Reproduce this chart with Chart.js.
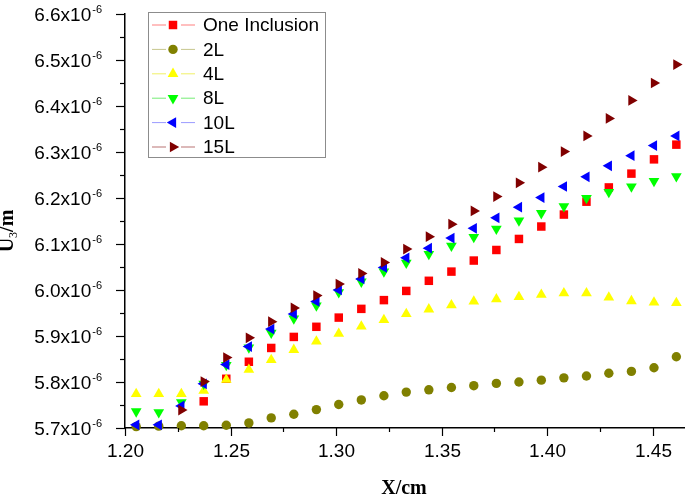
<!DOCTYPE html>
<html>
<head>
<meta charset="utf-8">
<script src="https://cdn.jsdelivr.net/npm/chart.js@4.4.0/dist/chart.umd.min.js"></script>
<style>
  body { margin: 0; background: #fff; }
</style>
</head>
<body>
<canvas id="u3Chart" width="685" height="498"></canvas>
<script>
// U3 values are in units of 1e-6 m, X in cm
var xValues = [1.2053, 1.2160, 1.2267, 1.2373, 1.2480, 1.2587, 1.2693, 1.2800, 1.2907, 1.3013,
               1.3120, 1.3227, 1.3333, 1.3440, 1.3547, 1.3653, 1.3760, 1.3867, 1.3973, 1.4080,
               1.4187, 1.4293, 1.4400, 1.4507, 1.4613];

var oneInclusion = [null, null, null, 5.758, 5.807, 5.844, 5.874, 5.898, 5.920, 5.940,
                    5.959, 5.978, 5.998, 6.020, 6.040, 6.064, 6.087, 6.111, 6.138, 6.164,
                    6.192, 6.223, 6.253, 6.284, 6.316];
var twoL = [5.703, 5.704, 5.705, 5.705, 5.706, 5.711, 5.722, 5.730, 5.740, 5.751,
            5.761, 5.770, 5.778, 5.783, 5.788, 5.792, 5.797, 5.800, 5.804, 5.809,
            5.813, 5.819, 5.823, 5.831, 5.855];
var fourL = [5.774, 5.774, 5.774, 5.781, 5.805, 5.827, 5.848, 5.870, 5.888, 5.905,
             5.921, 5.935, 5.948, 5.958, 5.967, 5.975, 5.980, 5.985, 5.990, 5.993,
             5.993, 5.984, 5.976, 5.973, 5.972];
var eightL = [5.736, 5.734, 5.756, 5.796, 5.837, 5.875, 5.907, 5.938, 5.966, 5.995,
              6.018, 6.040, 6.059, 6.078, 6.096, 6.115, 6.133, 6.151, 6.167, 6.182,
              6.200, 6.213, 6.225, 6.237, 6.247];
var tenL = [5.707, 5.707, 5.748, 5.796, 5.838, 5.877, 5.915, 5.948, 5.975, 6.000,
            6.024, 6.049, 6.070, 6.091, 6.113, 6.134, 6.157, 6.180, 6.201, 6.225,
            6.246, 6.270, 6.292, 6.314, 6.335];
var fifteenL = [null, null, 5.739, 5.801, 5.853, 5.896, 5.931, 5.961, 5.988, 6.013,
                6.036, 6.060, 6.089, 6.116, 6.143, 6.172, 6.203, 6.233, 6.267, 6.301,
                6.335, 6.373, 6.412, 6.450, 6.490];

var yTicks = [5.7, 5.8, 5.9, 6.0, 6.1, 6.2, 6.3, 6.4, 6.5, 6.6];
var xTicks = [1.20, 1.25, 1.30, 1.35, 1.40, 1.45];

var sansFont = '"Liberation Sans", Arial, sans-serif';
var serifFont = '"Liberation Serif", "Times New Roman", serif';

function toPoints(ys) {
    var pts = [];
    xValues.forEach(function (x, i) {
        if (ys[i] !== null) pts.push({ x: x, y: ys[i] });
    });
    return pts;
}

function makeSet(label, ys, color, lineColor, style, rot, r, order) {
    return {
        label: label,
        data: toPoints(ys),
        pointStyle: style,
        pointRotation: rot,
        pointRadius: r,
        pointBackgroundColor: color,
        pointBorderWidth: 0,
        lineColor: lineColor,
        showLine: false,
        clip: false,
        order: order
    };
}

// minor + major ticks, labels with superscript exponent, axis titles, boxed legend
var decorPlugin = {
    id: 'decor',
    afterDraw: function (chart) {
        var ctx = chart.ctx;
        var ys = chart.scales.y, xs = chart.scales.x;
        ctx.save();
        ctx.strokeStyle = '#000';
        ctx.lineWidth = 1.2;
        ctx.fillStyle = '#000';

        yTicks.forEach(function (v, i) {
            var py = Math.round(ys.getPixelForValue(v)) + 0.5;
            ctx.beginPath(); ctx.moveTo(ys.right - 9, py); ctx.lineTo(ys.right, py); ctx.stroke();
            if (i < yTicks.length - 1) {
                var pm = Math.round(ys.getPixelForValue((v + yTicks[i + 1]) / 2)) + 0.5;
                ctx.beginPath(); ctx.moveTo(ys.right - 5, pm); ctx.lineTo(ys.right, pm); ctx.stroke();
            }
            var main = v.toFixed(1) + 'x10', sup = '-6';
            ctx.font = '11px ' + sansFont;
            var supW = ctx.measureText(sup).width;
            ctx.font = '19px ' + sansFont;
            var mainW = ctx.measureText(main).width;
            var endX = ys.right - 23;
            ctx.textAlign = 'left';
            ctx.textBaseline = 'middle';
            ctx.fillText(main, endX - supW - 1 - mainW, py + 1);
            ctx.font = '11px ' + sansFont;
            ctx.textBaseline = 'alphabetic';
            ctx.fillText(sup, endX - supW, py - 1.5);
        });

        xTicks.forEach(function (v, i) {
            var px = Math.round(xs.getPixelForValue(v)) + 0.5;
            ctx.beginPath(); ctx.moveTo(px, xs.top); ctx.lineTo(px, xs.top + 8); ctx.stroke();
            var pm = Math.round(xs.getPixelForValue(v + 0.025)) + 0.5;
            if (pm < chart.width) {
                ctx.beginPath(); ctx.moveTo(pm, xs.top); ctx.lineTo(pm, xs.top + 4); ctx.stroke();
            }
            ctx.font = '19px ' + sansFont;
            ctx.textAlign = 'center';
            ctx.textBaseline = 'middle';
            ctx.fillText(v.toFixed(2), px, xs.top + 24);
        });

        // axis titles
        ctx.font = 'bold 20px ' + serifFont;
        ctx.textAlign = 'center';
        ctx.textBaseline = 'middle';
        ctx.fillText('X/cm', (chart.chartArea.left + chart.chartArea.right) / 2 - 1, 489);

        ctx.save();
        ctx.translate(8, 231);
        ctx.rotate(-Math.PI / 2);
        ctx.textAlign = 'left';
        ctx.textBaseline = 'middle';
        ctx.font = 'bold 20px ' + serifFont;
        var wU = ctx.measureText('U').width;
        var wM = ctx.measureText('/m').width;
        ctx.font = '12px ' + serifFont;
        var w3 = ctx.measureText('3').width;
        var start = -(wU + w3 + wM) / 2;
        ctx.font = 'bold 20px ' + serifFont;
        ctx.fillText('U', start, 0);
        ctx.font = '12px ' + serifFont;
        ctx.fillText('3', start + wU, 6);
        ctx.font = 'bold 20px ' + serifFont;
        ctx.fillText('/m', start + wU + w3, 0);
        ctx.restore();

        // legend
        ctx.strokeStyle = '#8c8c8c';
        ctx.lineWidth = 1;
        ctx.strokeRect(148.5, 12.5, 177, 145);
        chart.data.datasets.forEach(function (ds, i) {
            var ly = 25 + i * 24.4;
            ctx.strokeStyle = ds.lineColor;
            ctx.lineWidth = 1;
            ctx.beginPath();
            ctx.moveTo(152, ly); ctx.lineTo(166, ly);
            ctx.moveTo(181, ly); ctx.lineTo(195, ly);
            ctx.stroke();
            ctx.fillStyle = ds.pointBackgroundColor;
            Chart.helpers.drawPoint(ctx, {
                pointStyle: ds.pointStyle,
                rotation: ds.pointRotation,
                radius: ds.pointRadius,
                borderWidth: 0
            }, 173, ly);
            ctx.fillStyle = '#000';
            ctx.font = '19px ' + sansFont;
            ctx.textAlign = 'left';
            ctx.textBaseline = 'middle';
            ctx.fillText(ds.label, 203, ly + 1);
        });
        ctx.restore();
    }
};

new Chart(document.getElementById('u3Chart'), {
    type: 'scatter',
    data: {
        datasets: [
            makeSet('One Inclusion', oneInclusion, '#ff0000', 'rgba(255,0,0,0.5)', 'rect', 0, 6, 5),
            makeSet('2L', twoL, '#808000', 'rgba(128,128,0,0.45)', 'circle', 0, 4.7, 4),
            makeSet('4L', fourL, '#ffff00', 'rgba(230,230,0,0.6)', 'triangle', 0, 6.2, 3),
            makeSet('8L', eightL, '#00ff00', 'rgba(0,220,0,0.55)', 'triangle', 180, 6.2, 2),
            makeSet('10L', tenL, '#0000ff', 'rgba(0,0,255,0.4)', 'triangle', 270, 6.2, 1),
            makeSet('15L', fifteenL, '#800000', 'rgba(128,0,0,0.55)', 'triangle', 90, 6.2, 0)
        ]
    },
    options: {
        responsive: false,
        animation: false,
        devicePixelRatio: 1,
        layout: { padding: { top: 14, right: 0, bottom: 0, left: 0 }, autoPadding: false },
        plugins: {
            legend: { display: false },
            tooltip: { enabled: false }
        },
        scales: {
            x: {
                type: 'linear',
                min: 1.2,
                max: 1.4654,
                ticks: { display: false },
                grid: { display: true, drawOnChartArea: false, drawTicks: false },
                border: { display: true, color: '#000', width: 1.5 },
                afterFit: function (scale) { scale.height = 70; }
            },
            y: {
                type: 'linear',
                min: 5.7,
                max: 6.6,
                ticks: { display: false },
                grid: { display: true, drawOnChartArea: false, drawTicks: false },
                border: { display: true, color: '#000', width: 1.5 },
                afterFit: function (scale) { scale.width = 125; }
            }
        }
    },
    plugins: [decorPlugin]
});
</script>
</body>
</html>
